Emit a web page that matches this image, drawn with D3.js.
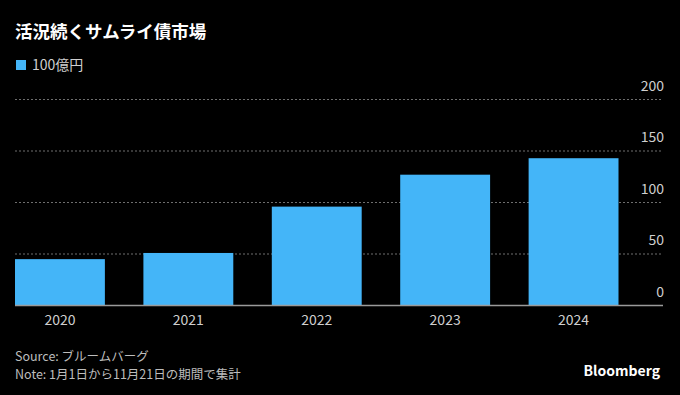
<!DOCTYPE html>
<meta charset="utf-8">
<head>
  <style>
    body {margin: 0; background-color: #000000;}
    text {font-family: "Noto Sans CJK JP", "Noto Sans", sans-serif;}
  </style>
</head>
<body>
<script src="https://d3js.org/d3.v7.min.js"></script>
<script>
  const years = ["2020", "2021", "2022", "2023", "2024"];
  const issuance = [45, 51, 96, 127, 143];   // 100億円
  const yTicks = [0, 50, 100, 150, 200];

  const W = 680, H = 395;
  const svg = d3.select("body").append("svg")
    .attr("width", W)
    .attr("height", H)
    .style("background", "#000");

  const x = d3.scaleBand()
    .domain(years)
    .range([15, 618.5])
    .paddingInner(0.3)
    .paddingOuter(0);

  const y = d3.scaleLinear()
    .domain([0, 200])
    .range([305.5, 99.5]);

  // title + legend
  svg.append("text")
    .attr("x", 15).attr("y", 38)
    .attr("fill", "#fff")
    .attr("font-size", 17.5)
    .attr("font-weight", "bold")
    .text("活況続くサムライ債市場");

  svg.append("rect")
    .attr("x", 16).attr("y", 60)
    .attr("width", 10).attr("height", 10)
    .attr("fill", "#44b5f8");
  svg.append("text")
    .attr("x", 32).attr("y", 70)
    .attr("fill", "#cfcfcf")
    .attr("font-size", 14)
    .text("100億円");

  // gridlines + right labels
  const grid = svg.append("g");
  grid.selectAll("line")
    .data(yTicks.filter(d => d > 0))
    .enter().append("line")
    .attr("x1", 15).attr("x2", 663)
    .attr("y1", d => y(d)).attr("y2", d => y(d))
    .attr("stroke", "#6e6e6e")
    .attr("stroke-width", 1)
    .attr("stroke-dasharray", "2,2");

  grid.selectAll("text")
    .data(yTicks)
    .enter().append("text")
    .attr("x", 664)
    .attr("y", d => y(d) - 9)
    .attr("text-anchor", "end")
    .attr("fill", "#cfcfcf")
    .attr("font-size", 14)
    .text(d => d);

  // bars
  svg.append("g").selectAll("rect")
    .data(years)
    .enter().append("rect")
    .attr("x", d => x(d))
    .attr("y", (d, i) => y(issuance[i]))
    .attr("width", x.bandwidth())
    .attr("height", (d, i) => y(0) - y(issuance[i]))
    .attr("fill", "#44b5f8");

  // baseline
  svg.append("line")
    .attr("x1", 15).attr("x2", 663)
    .attr("y1", y(0)).attr("y2", y(0))
    .attr("stroke", "#9a9a9a")
    .attr("stroke-width", 1.5);

  // x axis labels
  svg.append("g").selectAll("text")
    .data(years)
    .enter().append("text")
    .attr("x", d => x(d) + x.bandwidth() / 2)
    .attr("y", 325)
    .attr("text-anchor", "middle")
    .attr("fill", "#cfcfcf")
    .attr("font-size", 14)
    .text(d => d);

  // footer
  svg.append("text")
    .attr("x", 15).attr("y", 361)
    .attr("fill", "#bdbdbd")
    .attr("font-size", 12.5)
    .text("Source: ブルームバーグ");
  svg.append("text")
    .attr("x", 15).attr("y", 379)
    .attr("fill", "#bdbdbd")
    .attr("font-size", 12.5)
    .text("Note: 1月1日から11月21日の期間で集計");
  svg.append("text")
    .attr("x", 660).attr("y", 376)
    .attr("text-anchor", "end")
    .attr("fill", "#fff")
    .attr("font-size", 14)
    .attr("font-weight", "bold")
    .text("Bloomberg");
</script>
</body>
